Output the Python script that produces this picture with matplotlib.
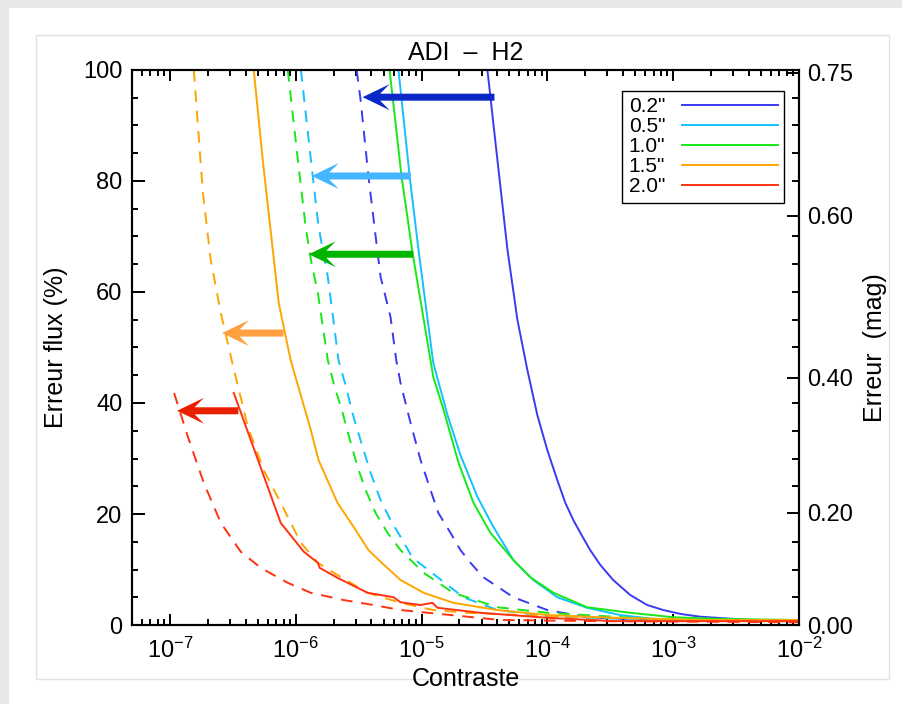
import matplotlib
matplotlib.use("Agg")
import matplotlib.pyplot as plt
from matplotlib.patches import Rectangle, FancyArrow
import numpy as np

plt.rcParams['font.family'] = ['Liberation Sans', 'DejaVu Sans']
plt.rcParams['mathtext.fontset'] = 'custom'
plt.rcParams['mathtext.rm'] = 'Liberation Sans'
plt.rcParams['mathtext.it'] = 'Liberation Sans:italic'
plt.rcParams['mathtext.default'] = 'regular'

# separations and colours
labels = ['0.2"', '0.5"', '1.0"', '1.5"', '2.0"']
colors = ['#3a3af2', '#12c2ff', '#18e818', '#ffa500', '#ff3210']
arrow_colors = ['#0a28c6', '#45b5ff', '#00b400', '#ff9f40', '#e82000']

# solid curves (contrast, flux error %)
c02 = [3.34e-5, 4.01e-5, 4.82e-5, 5.78e-5, 6.93e-5, 8.33e-5, 1.0e-4, 1.2e-4, 1.39e-4,
       1.61e-4, 1.83e-4, 2.19e-4, 2.64e-4, 3.34e-4, 4.56e-4, 6.22e-4, 8.34e-4, 1.14e-3,
       1.64e-3, 4.08e-3, 1e-2]
f02 = [100, 83.8, 67.6, 55.0, 46.0, 37.8, 31.5, 26.1, 22.0, 18.9, 16.6, 13.5, 10.8, 8.1,
       5.4, 3.6, 2.7, 2.0, 1.5, 0.9, 0.9]
c05 = [6.56e-6, 8.04e-6, 9.46e-6, 1.24e-5, 1.61e-5, 2.04e-5, 2.78e-5, 3.72e-5, 5.37e-5,
       7.74e-5, 1.2e-4, 2.07e-4, 3.79e-4, 8.34e-4, 2.36e-3, 1e-2]
f05 = [100, 80.9, 67.6, 47.2, 37.8, 30.6, 23.1, 17.7, 11.7, 8.1, 5.0, 3.1, 1.8, 0.9, 0.7, 0.7]
c10 = [5.57e-6, 6.93e-6, 8.49e-6, 1.24e-5, 1.50e-5, 1.97e-5, 2.59e-5, 3.53e-5, 5.37e-5,
       7.33e-5, 1.12e-4, 2.07e-4, 4.56e-4, 1e-3, 2.36e-3, 1e-2]
f10 = [100, 80.9, 67.0, 44.7, 38.7, 29.2, 22.0, 16.6, 11.7, 8.6, 5.8, 3.2, 2.2, 1.4, 1.1, 0.9]
c15 = [4.64e-7, 5.47e-7, 7.33e-7, 9.12e-7, 1.32e-6, 1.52e-6, 2.15e-6, 2.88e-6, 3.79e-6,
       4.73e-6, 6.81e-6, 1.04e-5, 1.79e-5, 4.01e-5, 1e-4, 3.34e-4, 1.64e-3, 1e-2]
f15 = [100, 83.8, 58.0, 47.7, 35.1, 29.7, 22.0, 17.7, 13.5, 11.4, 8.1, 5.8, 4.0, 2.7, 1.8,
       1.3, 0.9, 0.9]
c20 = [3.22e-7, 7.60e-7, 1.16e-6, 1.50e-6, 1.55e-6, 2.15e-6, 3.73e-6, 6.0e-6, 6.81e-6,
       9.8e-6, 1.22e-5, 1.34e-5, 2.94e-5, 1e-4, 3.34e-4, 1.64e-3, 1e-2]
f20 = [41.8, 18.4, 13.2, 11.2, 10.3, 8.5, 5.8, 5.0, 4.1, 3.6, 4.0, 3.1, 2.2, 1.3, 0.7, 0.7, 0.7]

# dashed curves
d02 = [3.05e-6, 3.28e-6, 3.79e-6, 4.48e-6, 4.73e-6, 5.67e-6, 6.3e-6, 6.81e-6, 8.18e-6,
       9.83e-6, 1.18e-5, 1.36e-5, 1.70e-5, 2.04e-5, 2.45e-5, 3.10e-5, 5.37e-5, 1e-4,
       2.07e-4, 6.56e-4, 1e-2]
g02 = [100, 94.6, 80.7, 67.0, 62.7, 55.5, 47.7, 43.6, 36.4, 29.7, 24.3, 20.2, 16.6, 13.5,
       11.2, 8.6, 5.0, 2.7, 1.4, 0.9, 0.7]
d05 = [1.10e-6, 1.32e-6, 1.52e-6, 1.80e-6, 2.19e-6, 2.49e-6, 2.88e-6, 3.40e-6, 3.94e-6,
       4.73e-6, 5.67e-6, 6.81e-6, 8.49e-6, 1.18e-5, 2.15e-5, 4.01e-5, 1e-4, 6.56e-4, 1e-2]
g05 = [100, 83.8, 71.7, 62.7, 47.7, 43.2, 37.5, 32.1, 27.4, 22.5, 18.9, 15.9, 12.1, 9.6,
       5.0, 2.7, 1.6, 0.9, 0.7]
d10 = [8.65e-7, 1.04e-6, 1.20e-6, 1.32e-6, 1.50e-6, 1.80e-6, 2.0e-6, 2.36e-6, 2.74e-6,
       3.10e-6, 3.60e-6, 4.31e-6, 5.37e-6, 6.81e-6, 1.04e-5, 1.79e-5, 4.01e-5, 1e-4,
       6.56e-4, 1e-2]
g10 = [100, 83.8, 71.7, 65.8, 59.8, 47.7, 43.6, 38.2, 32.8, 28.5, 24.3, 20.2, 16.6, 13.5,
       9.4, 5.8, 3.2, 2.2, 1.1, 0.7]
d15 = [1.55e-7, 1.83e-7, 2.11e-7, 2.54e-7, 3.10e-7, 4.16e-7, 5.57e-7, 7.60e-7, 1.10e-6,
       1.50e-6, 2.01e-6, 3.73e-6, 6.81e-6, 1.24e-5, 2.32e-5, 1e-4, 3.34e-4, 1.64e-3, 1e-2]
g15 = [100, 77.8, 65.8, 56.2, 47.7, 35.7, 27.9, 22.0, 14.8, 11.2, 9.4, 5.8, 4.0, 2.7, 2.2,
       1.6, 1.3, 0.9, 0.7]
d20 = [1.08e-7, 1.39e-7, 1.86e-7, 2.54e-7, 3.66e-7, 5.27e-7, 8.65e-7, 1.32e-6, 2.40e-6,
       4.16e-6, 6.81e-6, 1.70e-5, 4.24e-5, 2.64e-4, 1e-2]
g20 = [41.8, 33.9, 25.6, 18.4, 13.2, 10.3, 7.6, 5.8, 4.5, 3.6, 2.7, 1.8, 0.9, 0.7, 0.5]

solid = [(c02, f02), (c05, f05), (c10, f10), (c15, f15), (c20, f20)]
dashed = [(d02, g02), (d05, g05), (d10, g10), (d15, g15), (d20, g20)]

# arrows: height (flux %), tail and tip contrast
arrow_y = [95.1, 80.9, 66.8, 52.6, 38.6]
arrow_tail = [3.8e-5, 8.2e-6, 8.6e-6, 8.0e-7, 3.5e-7]
arrow_tip = [3.4e-6, 1.34e-6, 1.27e-6, 2.6e-7, 1.14e-7]

# right axis (magnitudes)
mag_ticks = [0.0, 0.2, 0.4, 0.6, 0.75]
mag_minor_flux = [5, 10, 15, 25, 30, 35, 40, 50, 55, 60, 65, 70, 80, 85, 90, 95]

fig = plt.figure(figsize=(9.03, 7.04), dpi=100)
fig.patch.set_facecolor('#e8e8e8')
fig.add_artist(Rectangle((9 / 903, 0), 1, 1 - 8 / 704, transform=fig.transFigure,
                         facecolor='white', edgecolor='none', zorder=-10))
fig.add_artist(Rectangle((36 / 903, 25 / 704), 853 / 903, 644 / 704, transform=fig.transFigure,
                         facecolor='none', edgecolor='#e2e2e2', lw=1, zorder=-9))

ax = fig.add_axes([0.1462, 0.1122, 0.7386, 0.7884])
ax.set_xscale('log')
ax.set_xlim(5e-8, 1e-2)
ax.set_ylim(0, 100)

for (cx, fy), (dx, gy), col, lab in zip(solid, dashed, colors, labels):
    ax.plot(cx, fy, color=col, lw=1.4, label=lab)
    ax.plot(dx, gy, color=col, lw=1.4, dashes=(6, 4.5))

ax.set_yticks([0, 20, 40, 60, 80, 100])
ax.set_yticks(np.arange(0, 101, 5), minor=True)
ax.tick_params(axis='both', which='both', direction='in', labelsize=17, width=1.4)
ax.tick_params(axis='y', which='major', length=9, pad=7, right=False)
ax.tick_params(axis='y', which='minor', length=4, right=False)
ax.tick_params(axis='x', which='major', length=8, pad=9, top=True)
ax.tick_params(axis='x', which='minor', length=4, top=True)
for s in ax.spines.values():
    s.set_linewidth(1.5)

ax.set_xlabel('Contraste', fontsize=18, labelpad=3)
ax.set_ylabel('Erreur flux (%)', fontsize=18, labelpad=11)
ax.set_title('ADI  \u2013  H2', fontsize=18, pad=7)

ax2 = ax.twinx()
ax2.set_ylim(0, 100)
mag_flux = [100 * (10 ** (m / 2.5) - 1) for m in mag_ticks]
ax2.set_yticks(mag_flux)
ax2.set_yticklabels(['%.2f' % m for m in mag_ticks])
ax2.set_yticks(mag_minor_flux, minor=True)
ax2.tick_params(axis='y', which='both', direction='in', labelsize=17, width=1.4)
ax2.tick_params(axis='y', which='major', length=9, pad=6)
ax2.tick_params(axis='y', which='minor', length=5)
ax2.set_ylabel('Erreur  (mag)', fontsize=18, labelpad=7)
for s in ax2.spines.values():
    s.set_linewidth(1.5)

leg = ax.legend(loc='upper right', bbox_to_anchor=(0.9775, 0.962), borderaxespad=0,
                fontsize=15, markerfirst=False, handlelength=4.6, labelspacing=0.05,
                borderpad=0.3, handletextpad=0.8, fancybox=False, framealpha=1)
leg.get_frame().set_edgecolor('black')
leg.get_frame().set_linewidth(1.0)

# arrows drawn in inches so the head keeps its shape on the log axis
to_in = fig.dpi_scale_trans.inverted()
for y, x0, x1, col in zip(arrow_y, arrow_tail, arrow_tip, arrow_colors):
    p0 = to_in.transform(ax.transData.transform((x0, y)))
    p1 = to_in.transform(ax.transData.transform((x1, y)))
    arr = FancyArrow(p0[0], p0[1], p1[0] - p0[0], p1[1] - p0[1], width=0.07,
                     head_width=0.26, head_length=0.27, overhang=0.35,
                     length_includes_head=True, transform=fig.dpi_scale_trans,
                     color=col, lw=0, zorder=5)
    ax2.add_artist(arr)

fig.savefig('out.png', dpi=100, facecolor=fig.get_facecolor())
